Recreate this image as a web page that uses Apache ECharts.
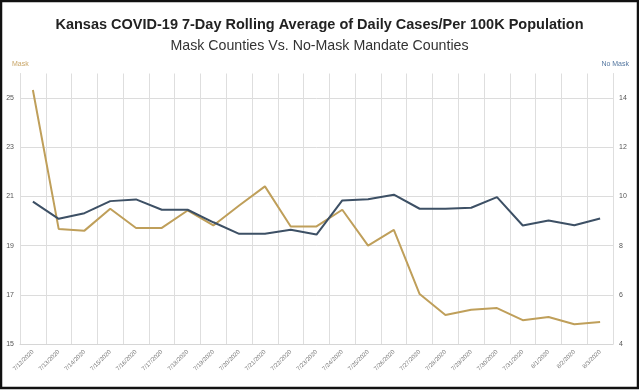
<!DOCTYPE html>
<html><head><meta charset="utf-8">
<script src="https://cdn.jsdelivr.net/npm/echarts@6/dist/echarts.min.js"></script>
<style>html,body{margin:0;padding:0;background:#fff}#c{width:639px;height:390px}</style>
</head><body><div id="c"></div>
<script>
const categories = ['7/12/2020','7/13/2020','7/14/2020','7/15/2020','7/16/2020','7/17/2020','7/18/2020','7/19/2020','7/20/2020','7/21/2020','7/22/2020','7/23/2020','7/24/2020','7/25/2020','7/26/2020','7/27/2020','7/28/2020','7/29/2020','7/30/2020','7/31/2020','8/1/2020','8/2/2020','8/3/2020'];
const maskValues = [25.33,19.68,19.61,20.50,19.72,19.72,20.43,19.82,20.63,21.41,19.78,19.78,20.46,19.00,19.64,17.03,16.18,16.39,16.46,15.97,16.10,15.80,15.89];
const noMaskValues = [9.79,9.09,9.32,9.81,9.88,9.46,9.46,8.95,8.48,8.48,8.65,8.45,9.84,9.89,10.07,9.50,9.50,9.54,9.97,8.82,9.02,8.83,9.10];
const titleText = 'Kansas COVID-19 7-Day Rolling Average of Daily Cases/Per 100K Population';
const subTitleText = 'Mask Counties Vs. No-Mask Mandate Counties';
const leftAxisName = 'Mask';
const rightAxisName = 'No Mask';

const gold = '#bf9f5a', blue = '#3d5065';
const chart = echarts.init(document.getElementById('c'), null, {renderer:'canvas'});
chart.setOption({
  animation: false,
  backgroundColor: '#fff',
  title: [
    {text: titleText, left: 'center', top: 12, textStyle:{fontFamily:'Liberation Sans, Arial', fontWeight:'bold', fontSize:14.5, color:'#222'}},
    {text: subTitleText, left: 'center', top: 34, textStyle:{fontFamily:'Liberation Sans, Arial', fontWeight:'normal', fontSize:14.2, color:'#333'}}
  ],
  graphic: [
    {type:'rect', shape:{x:1,y:1,width:637,height:387}, style:{fill:'none', stroke:'#111', lineWidth:2.5}, silent:true, z:100},
    {type:'text', left:12, top:61, style:{text:leftAxisName, fill:'#c9a668', fontSize:7, fontFamily:'Liberation Sans, Arial'}},
    {type:'text', right:10, top:61, style:{text:rightAxisName, fill:'#5577a0', fontSize:7, fontFamily:'Liberation Sans, Arial'}}
  ],
  grid: {left: 20, right: 26, top: 73.5, bottom: 46, containLabel: false},
  xAxis: {
    type: 'category', data: categories, boundaryGap: true,
    axisLine: {show: true, lineStyle:{color:'#d6d6d6', width:1}},
    axisTick: {show: false},
    splitLine: {show: true, interval: 0, lineStyle:{color:'#dedede', width:1}},
    axisLabel: {interval: 0, rotate: 45, fontSize: 6, color:'#777', margin: 7, fontFamily:'Liberation Sans, Arial'}
  },
  yAxis: [
    {type:'value', min:15, max:26, interval:1, position:'left',
     axisLine:{show:true, lineStyle:{color:'#dedede'}}, axisTick:{show:false},
     splitLine:{show:true, lineStyle:{color:['#dcdcdc','rgba(0,0,0,0)'], width:1}},
     axisLabel:{fontSize:7, color:'#555', margin:6, fontFamily:'Liberation Sans, Arial',
       formatter: v => (v % 2 === 1 && v < 26) ? String(v) : ''}},
    {type:'value', min:4, max:15, interval:1, position:'right',
     axisLine:{show:true, lineStyle:{color:'#dedede'}}, axisTick:{show:false},
     splitLine:{show:false},
     axisLabel:{fontSize:7, color:'#555', margin:6, fontFamily:'Liberation Sans, Arial',
       formatter: v => (v % 2 === 0 && v < 15) ? String(v) : ''}}
  ],
  series: [
    {name:'Mask', type:'line', yAxisIndex:0, data:maskValues, symbol:'none', lineStyle:{color:gold, width:2}, itemStyle:{color:gold}},
    {name:'No Mask', type:'line', yAxisIndex:1, data:noMaskValues, symbol:'none', lineStyle:{color:blue, width:2}, itemStyle:{color:blue}}
  ]
});
</script></body></html>
